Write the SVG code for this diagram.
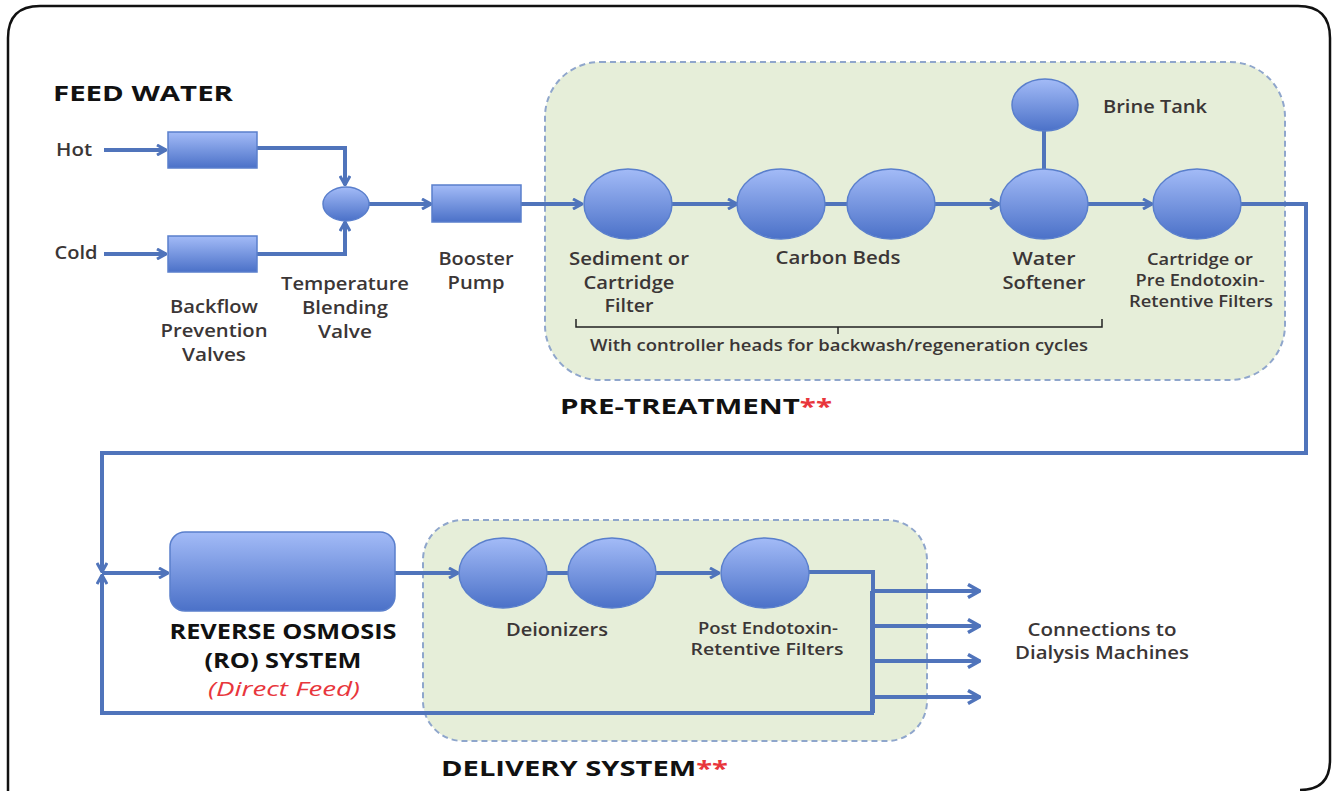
<svg xmlns="http://www.w3.org/2000/svg" width="1333" height="791" viewBox="0 0 1333 791">
<defs>
<linearGradient id="g" x1="0" y1="0" x2="0" y2="1">
<stop offset="0" stop-color="#a3bbf7"/>
<stop offset="1" stop-color="#4b71c8"/>
</linearGradient>
<marker id="ah" viewBox="0 0 12 12" refX="11" refY="6" markerWidth="12" markerHeight="12" markerUnits="userSpaceOnUse" orient="auto">
<path d="M2,1 L11,6 L2,11" fill="none" stroke="#5074bb" stroke-width="3"/>
</marker>
<marker id="ahb" viewBox="0 0 16 16" refX="15" refY="8" markerWidth="16" markerHeight="16" markerUnits="userSpaceOnUse" orient="auto">
<path d="M3,1.5 L14.5,8 L3,14.5" fill="none" stroke="#5074bb" stroke-width="3.5"/>
</marker>
</defs>
<style>
.shape{fill:url(#g);stroke:#5a7fcc;stroke-width:1.5}
.ln{fill:none;stroke:#5074bb;stroke-width:4}
.arr{fill:none;stroke:#5074bb;stroke-width:4;marker-end:url(#ah)}
.arrb{fill:none;stroke:#5074bb;stroke-width:4;marker-end:url(#ahb)}
.zone{fill:#e6eed9;stroke:#8fa6cc;stroke-width:2;stroke-dasharray:6 4}
.t{font-family:"Open Sans","Liberation Sans",sans-serif;font-size:18px;fill:#3b3636;font-weight:600;text-anchor:middle}
.s{font-family:"Open Sans","Liberation Sans",sans-serif;font-size:16px;fill:#3b3636;font-weight:600;text-anchor:middle}
.h{font-family:"Open Sans","Liberation Sans",sans-serif;font-size:22px;fill:#111;font-weight:700}
.red{fill:#e8363c}
</style>
<rect x="0" y="0" width="1333" height="791" fill="#ffffff"/>
<path d="M8,791 L8,38 Q8,6 40,6 L1298,6 Q1330,6 1330,38 L1330,760 Q1330,790 1300,790" fill="none" stroke="#111" stroke-width="2.5"/>

<g id="pretreatment-zone"><rect class="zone" x="545" y="62" width="740" height="318" rx="55"/></g>
<g id="delivery-zone"><rect class="zone" x="423" y="520" width="504" height="221" rx="40"/></g>

<g id="connectors">
<path class="arr" d="M104,150 H166"/>
<path class="arr" d="M104,254 H166"/>
<path class="arr" d="M257,148 H345 V185"/>
<path class="arr" d="M257,254 H345 V222"/>
<path class="arr" d="M369,204 H431"/>
<path class="arr" d="M521,204 H582"/>
<path class="arr" d="M672,204 H737"/>
<path class="ln" d="M825,204 H847"/>
<path class="arr" d="M935,204 H999"/>
<path class="ln" d="M1044,131 V169"/>
<path class="arr" d="M1088,204 H1152"/>
<path class="arr" d="M1241,204 H1306 V453 H102 V572"/>
<path class="arr" d="M872,591 V713 H102 V575"/>
<path class="arr" d="M102,573 H168"/>
<path class="arr" d="M395,573 H458"/>
<path class="ln" d="M547,573 H568"/>
<path class="arr" d="M656,573 H719"/>
<path class="ln" d="M809,572 H873 V713"/>
<path class="arrb" d="M873,591 H980"/>
<path class="arrb" d="M873,626 H980"/>
<path class="arrb" d="M873,661 H980"/>
<path class="arrb" d="M873,697 H980"/>
<path d="M576,319 V327 H1102 V319 M838,327 V334" fill="none" stroke="#222" stroke-width="1.5"/>
</g>

<g id="feed-water"><text class="h" x="53" y="101" textLength="180" lengthAdjust="spacingAndGlyphs">FEED WATER</text></g>
<g id="hot"><text class="t" x="74" y="156" textLength="36" lengthAdjust="spacingAndGlyphs">Hot</text></g>
<g id="cold"><text class="t" x="76" y="259" textLength="43" lengthAdjust="spacingAndGlyphs">Cold</text></g>
<g id="backflow-valves">
<rect class="shape" x="168" y="132" width="89" height="36"/>
<rect class="shape" x="168" y="236" width="89" height="36"/>
<text class="t" x="214" y="313" textLength="88" lengthAdjust="spacingAndGlyphs">Backflow</text>
<text class="t" x="214" y="337" textLength="107" lengthAdjust="spacingAndGlyphs">Prevention</text>
<text class="t" x="214" y="361" textLength="64" lengthAdjust="spacingAndGlyphs">Valves</text>
</g>
<g id="blending-valve">
<ellipse class="shape" cx="346" cy="204" rx="23" ry="17"/>
<text class="t" x="345" y="290" textLength="128" lengthAdjust="spacingAndGlyphs">Temperature</text>
<text class="t" x="345" y="314" textLength="86" lengthAdjust="spacingAndGlyphs">Blending</text>
<text class="t" x="345" y="338" textLength="54" lengthAdjust="spacingAndGlyphs">Valve</text>
</g>
<g id="booster-pump">
<rect class="shape" x="432" y="185" width="89" height="37"/>
<text class="t" x="476" y="265" textLength="75" lengthAdjust="spacingAndGlyphs">Booster</text>
<text class="t" x="476" y="289" textLength="57" lengthAdjust="spacingAndGlyphs">Pump</text>
</g>
<g id="sediment-filter">
<ellipse class="shape" cx="628" cy="204" rx="44" ry="35"/>
<text class="t" x="629" y="265" textLength="120" lengthAdjust="spacingAndGlyphs">Sediment or</text>
<text class="t" x="629" y="289" textLength="91" lengthAdjust="spacingAndGlyphs">Cartridge</text>
<text class="t" x="629" y="312" textLength="49" lengthAdjust="spacingAndGlyphs">Filter</text>
</g>
<g id="carbon-beds">
<ellipse class="shape" cx="781" cy="204" rx="44" ry="35"/>
<ellipse class="shape" cx="891" cy="204" rx="44" ry="35"/>
<text class="t" x="838" y="264" textLength="125" lengthAdjust="spacingAndGlyphs">Carbon Beds</text>
</g>
<g id="brine-tank">
<ellipse class="shape" cx="1045" cy="105" rx="33" ry="26"/>
<text class="t" x="1155" y="113" textLength="104" lengthAdjust="spacingAndGlyphs">Brine Tank</text>
</g>
<g id="water-softener">
<ellipse class="shape" cx="1044" cy="204" rx="44" ry="35"/>
<text class="t" x="1044" y="265" textLength="63" lengthAdjust="spacingAndGlyphs">Water</text>
<text class="t" x="1044" y="289" textLength="83" lengthAdjust="spacingAndGlyphs">Softener</text>
</g>
<g id="cartridge-pre-endotoxin">
<ellipse class="shape" cx="1197" cy="204" rx="44" ry="35"/>
<text class="s" x="1200" y="265" textLength="106" lengthAdjust="spacingAndGlyphs">Cartridge or</text>
<text class="s" x="1200" y="286" textLength="129" lengthAdjust="spacingAndGlyphs">Pre Endotoxin-</text>
<text class="s" x="1201" y="307" textLength="144" lengthAdjust="spacingAndGlyphs">Retentive Filters</text>
</g>
<g id="controller-note"><text class="s" x="839" y="351" textLength="498" lengthAdjust="spacingAndGlyphs">With controller heads for backwash/regeneration cycles</text></g>
<g id="pretreatment-label"><text class="h" x="560" y="414" textLength="272" lengthAdjust="spacingAndGlyphs">PRE-TREATMENT<tspan class="red">**</tspan></text></g>
<g id="ro-system">
<rect class="shape" x="170" y="532" width="225" height="79" rx="15"/>
<text class="h" x="283" y="639" text-anchor="middle" textLength="227" lengthAdjust="spacingAndGlyphs">REVERSE OSMOSIS</text>
<text class="h" x="283" y="668" text-anchor="middle" textLength="157" lengthAdjust="spacingAndGlyphs">(RO) SYSTEM</text>
<text class="t" x="284" y="696" textLength="152" lengthAdjust="spacingAndGlyphs" style="font-style:italic;font-weight:400;fill:#e8363c;font-size:20px">(Direct Feed)</text>
</g>
<g id="deionizers">
<ellipse class="shape" cx="503" cy="573" rx="44" ry="35"/>
<ellipse class="shape" cx="612" cy="573" rx="44" ry="35"/>
<text class="t" x="557" y="636" textLength="102" lengthAdjust="spacingAndGlyphs">Deionizers</text>
</g>
<g id="post-endotoxin">
<ellipse class="shape" cx="765" cy="573" rx="44" ry="35"/>
<text class="s" x="768" y="634" textLength="140" lengthAdjust="spacingAndGlyphs">Post Endotoxin-</text>
<text class="s" x="767" y="655" textLength="153" lengthAdjust="spacingAndGlyphs">Retentive Filters</text>
</g>
<g id="dialysis-connections">
<text class="t" x="1102" y="636" textLength="149" lengthAdjust="spacingAndGlyphs">Connections to</text>
<text class="t" x="1102" y="659" textLength="174" lengthAdjust="spacingAndGlyphs">Dialysis Machines</text>
</g>
<g id="delivery-label"><text class="h" x="441" y="776" textLength="287" lengthAdjust="spacingAndGlyphs">DELIVERY SYSTEM<tspan class="red">**</tspan></text></g>
</svg>
